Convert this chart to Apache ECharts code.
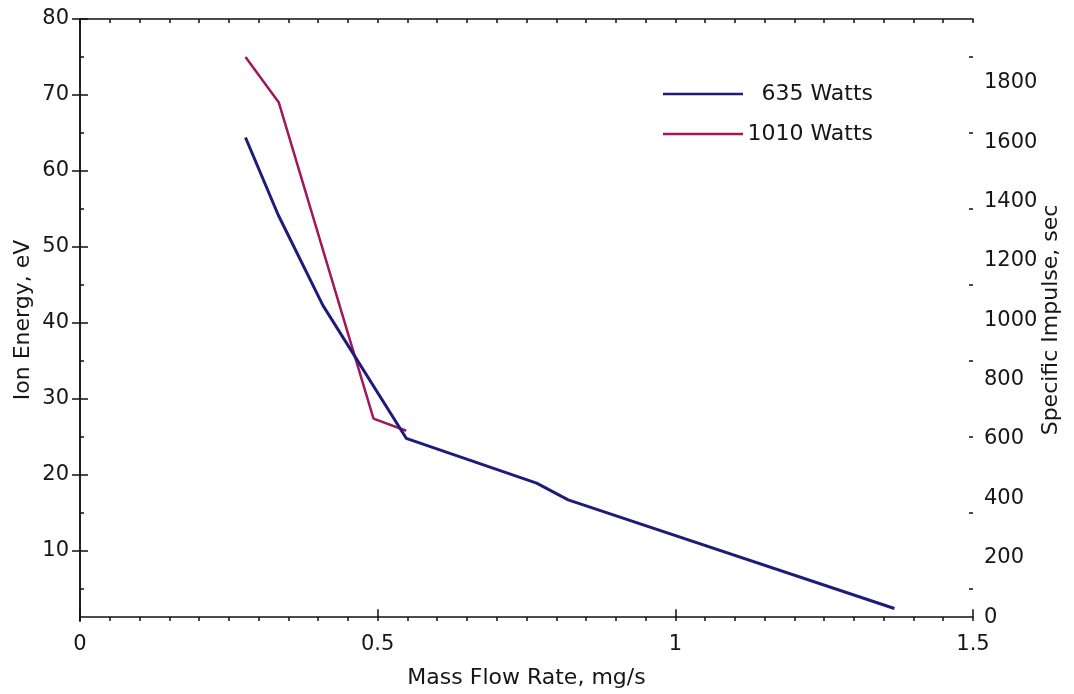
<!DOCTYPE html>
<html>
<head>
<meta charset="utf-8">
<script src="https://cdn.jsdelivr.net/npm/echarts@6/dist/echarts.min.js"></script>
<style>
  html, body { margin: 0; padding: 0; background: #fff; }
  #chart { width: 1074px; height: 694px; }
</style>
</head>
<body>
<div id="chart"></div>
<script>
// Ion energy vs. mass flow rate for two discharge powers
const seriesNames = ['635 Watts', '1010 Watts'];
const flow635 = [0.278, 0.333, 0.408, 0.548, 0.767, 0.820, 1.368];
const energy635 = [64.4, 54.2, 42.3, 24.8, 18.9, 16.7, 2.4];
const flow1010 = [0.278, 0.334, 0.493, 0.548];
const energy1010 = [75.0, 69.0, 27.4, 25.8];

const xTickLabels = [0, 0.5, 1, 1.5];
const energyTickLabels = [10, 20, 30, 40, 50, 60, 70, 80];
const energyMinorTicks = [5, 15, 25, 35, 45, 55, 65, 75];
const impulseTickLabels = [0, 200, 400, 600, 800, 1000, 1200, 1400, 1600, 1800];
const flowMinorTicks = [];
for (let i = 0; i <= 30; i++) flowMinorTicks.push(+(i * 0.05).toFixed(2));

const FONT = 'DejaVu Sans';
const TICK_SIZE = 21;
const NAME_SIZE = 22;
const INK = '#161616';
const colors = ['#1f1b7a', '#a2165f'];

const energyRange = { min: 0.75, max: 80 };
const impulseRange = { min: -13, max: 2015 };

const pair = (xs, ys) => xs.map((x, i) => [x, ys[i]]);
const plain = v => String(v);

const lineStyleAxis = { color: '#111', width: 1.5 };
const tickText = { fontFamily: FONT, fontSize: TICK_SIZE, color: INK };
const nameText = { fontFamily: FONT, fontSize: NAME_SIZE, color: INK };

const chart = echarts.init(document.getElementById('chart'), null, { renderer: 'canvas' });
chart.setOption({
  animation: false,
  backgroundColor: '#fff',
  color: colors,
  grid: { left: 80, right: 101, top: 19, bottom: 73, containLabel: false, outerBoundsMode: 'none' },
  legend: {
    orient: 'vertical',
    left: 663,
    top: 83,
    padding: 0,
    itemWidth: 80,
    itemHeight: 2.5,
    itemGap: 18,
    icon: 'rect',
    data: seriesNames,
    formatter: '{n|{name}}',
    textStyle: {
      ...nameText,
      rich: { n: { width: 125, align: 'right', ...nameText } }
    }
  },
  xAxis: [
    {
      type: 'value', position: 'bottom', min: 0, max: 1.5,
      name: 'Mass Flow Rate, mg/s', nameLocation: 'middle', nameGap: 46, nameMoveOverlap: false,
      nameTextStyle: nameText,
      axisLine: { show: true, lineStyle: lineStyleAxis },
      axisTick: { show: true, inside: true, length: 8, customValues: xTickLabels, lineStyle: lineStyleAxis },
      axisLabel: { show: true, customValues: xTickLabels, margin: 13, ...tickText, formatter: plain },
      splitLine: { show: false }
    },
    {
      type: 'value', position: 'bottom', min: 0, max: 1.5,
      axisLine: { show: false },
      axisTick: { show: true, inside: true, length: 4, customValues: flowMinorTicks, lineStyle: lineStyleAxis },
      axisLabel: { show: false },
      splitLine: { show: false }
    },
    {
      type: 'value', position: 'top', min: 0, max: 1.5,
      axisLine: { show: true, lineStyle: lineStyleAxis },
      axisTick: { show: true, inside: true, length: 4, customValues: flowMinorTicks, lineStyle: lineStyleAxis },
      axisLabel: { show: false },
      splitLine: { show: false }
    }
  ],
  yAxis: [
    {
      type: 'value', position: 'left', ...energyRange,
      name: 'Ion Energy, eV', nameLocation: 'middle', nameGap: 46, nameRotate: 90, nameMoveOverlap: false,
      nameTextStyle: nameText,
      axisLine: { show: true, lineStyle: lineStyleAxis },
      axisTick: { show: true, inside: true, length: 8, customValues: energyTickLabels, lineStyle: lineStyleAxis },
      axisLabel: { show: true, customValues: energyTickLabels, margin: 11, ...tickText, formatter: plain },
      splitLine: { show: false }
    },
    {
      type: 'value', position: 'left', ...energyRange,
      axisLine: { show: false },
      axisTick: { show: true, inside: true, length: 4, customValues: energyMinorTicks, lineStyle: lineStyleAxis },
      axisLabel: { show: false },
      splitLine: { show: false }
    },
    {
      type: 'value', position: 'right', ...energyRange,
      axisLine: { show: true, lineStyle: lineStyleAxis },
      axisTick: { show: true, inside: true, length: 8, customValues: energyTickLabels, lineStyle: lineStyleAxis },
      axisLabel: { show: false },
      splitLine: { show: false }
    },
    {
      type: 'value', position: 'right', ...energyRange,
      axisLine: { show: false },
      axisTick: { show: true, inside: true, length: 4, customValues: energyMinorTicks, lineStyle: lineStyleAxis },
      axisLabel: { show: false },
      splitLine: { show: false }
    },
    {
      type: 'value', position: 'right', ...impulseRange,
      name: 'Specific Impulse, sec', nameLocation: 'middle', nameGap: 67, nameRotate: 90, nameMoveOverlap: false,
      nameTextStyle: nameText,
      axisLine: { show: false },
      axisTick: { show: false },
      axisLabel: { show: true, customValues: impulseTickLabels, margin: 11, ...tickText, formatter: plain },
      splitLine: { show: false }
    }
  ],
  series: [
    {
      name: seriesNames[0], type: 'line', xAxisIndex: 0, yAxisIndex: 0,
      data: pair(flow635, energy635), symbol: 'none',
      lineStyle: { width: 3, color: colors[0] }, z: 3
    },
    {
      name: seriesNames[1], type: 'line', xAxisIndex: 0, yAxisIndex: 0,
      data: pair(flow1010, energy1010), symbol: 'none',
      lineStyle: { width: 2.5, color: colors[1] }, z: 2
    }
  ]
});
</script>
</body>
</html>
